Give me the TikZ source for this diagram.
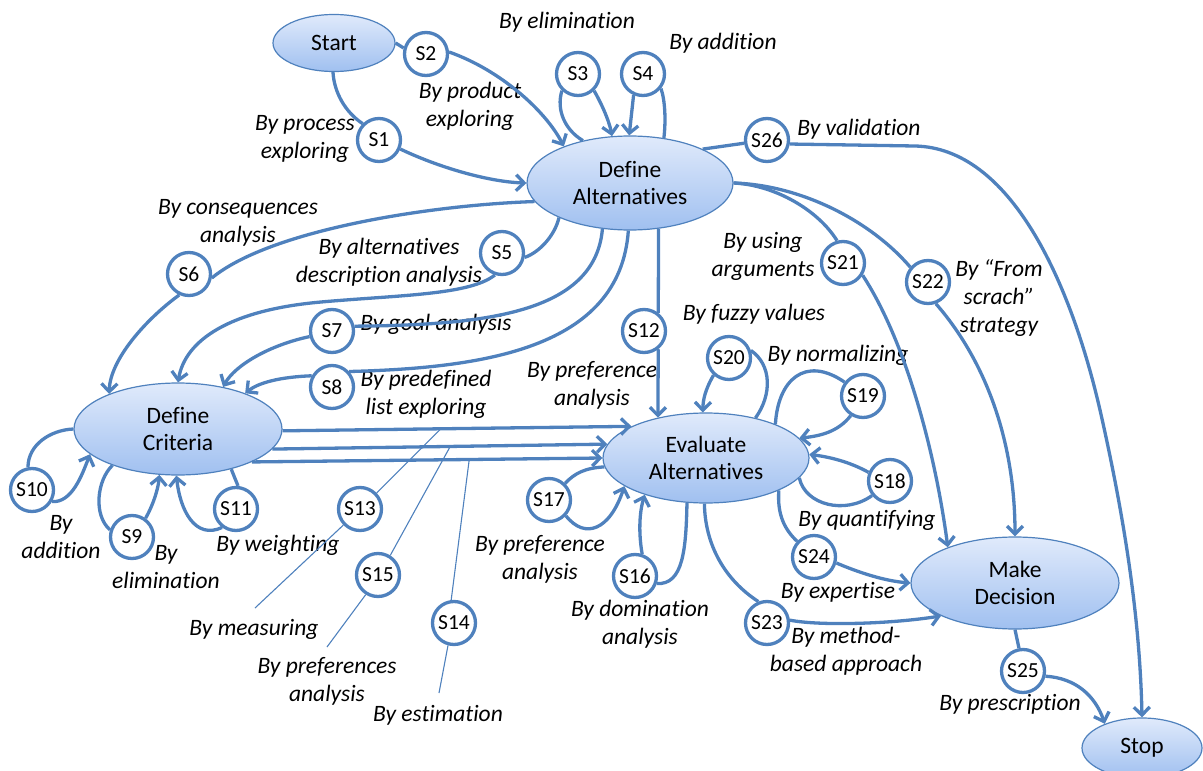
\documentclass[tikz,border=0pt]{standalone}
\usepackage{fontspec}
\setmainfont{Carlito}[Ligatures={TeX,NoCommon}]
\usetikzlibrary{shapes.geometric,arrows.meta}
\definecolor{eb}{RGB}{79,129,189}
\definecolor{ftop}{RGB}{224,234,251}
\definecolor{fbot}{RGB}{160,192,240}
\tikzset{
  st/.style={ellipse, draw=eb, line width=1.2pt, top color=ftop, bottom color=fbot,
    align=center, inner sep=0pt, font=\fontsize{23.5}{27.5}\selectfont},
  sn/.style={circle, draw=eb, line width=3.3pt, fill=white, minimum size=43pt,
    inner sep=0pt, font=\fontsize{21.5}{24}\selectfont},
  ed/.style={draw=eb, line width=3.3pt},
  ar/.style={ed, -{Straight Barb[length=8pt,width=16pt]}},
  thinl/.style={draw=eb, line width=1.1pt},
  lb/.style={font=\itshape\fontsize{23.5}{28}\selectfont, align=center, inner sep=0pt}
}
\begin{document}
\begin{tikzpicture}[x=1pt,y=-1pt]
\useasboundingbox (0,0) rectangle (1203,771);
\clip (0,0) rectangle (1203,771);
% main ellipses
\node[st, minimum width=122pt, minimum height=57pt] (Start) at (334,43) {Start};
\node[st, minimum width=206pt, minimum height=94pt] (DA) at (630,183) {Define\\Alternatives};
\node[st, minimum width=208pt, minimum height=92pt] (DC) at (178,429) {Define\\Criteria};
\node[st, minimum width=206pt, minimum height=90pt] (EA) at (706,458) {Evaluate\\Alternatives};
\node[st, minimum width=208pt, minimum height=92pt] (MD) at (1015,583) {Make\\Decision};
\node[st, minimum width=120pt, minimum height=60pt] (Stop) at (1142,748) {Stop};
% strategy circles
\node[sn] (S1) at (379,140) {S1};
\node[sn] (S2) at (426,54) {S2};
\node[sn] (S3) at (578,74) {S3};
\node[sn] (S4) at (643,74) {S4};
\node[sn] (S5) at (502,253) {S5};
\node[sn] (S6) at (189,274) {S6};
\node[sn] (S7) at (332,331) {S7};
\node[sn] (S8) at (332,387) {S8};
\node[sn] (S9) at (132,537) {S9};
\node[sn] (S10) at (32,490) {S10};
\node[sn] (S11) at (236,509) {S11};
\node[sn] (S12) at (644,331) {S12};
\node[sn] (S13) at (360,509) {S13};
\node[sn] (S14) at (454,623) {S14};
\node[sn] (S15) at (378,575) {S15};
\node[sn] (S16) at (635,576) {S16};
\node[sn] (S17) at (549,500) {S17};
\node[sn] (S18) at (890,481) {S18};
\node[sn] (S19) at (863,396) {S19};
\node[sn] (S20) at (729,358) {S20};
\node[sn] (S21) at (843,263) {S21};
\node[sn] (S22) at (928,282) {S22};
\node[sn] (S23) at (767,623) {S23};
\node[sn] (S24) at (814,557) {S24};
\node[sn] (S25) at (1023,671) {S25};
\node[sn] (S26) at (767,140) {S26};
% labels
\node[lb] (l3) at (567,22) {By elimination};
\node[lb] (l4) at (723,43) {By addition};
\node[lb] (l2) at (470,106) {By product\\exploring};
\node[lb] (l1) at (305,139) {By process\\exploring};
\node[lb] (l6) at (238,223) {By consequences\\analysis};
\node[lb] (l5) at (389,262) {By alternatives\\description analysis};
\node[lb] (l7) at (436,324) {By goal analysis};
\node[lb] (l8) at (426,394) {By predefined\\list exploring};
\node[lb] (l12) at (592,385) {By preference\\analysis};
\node[lb] (l20) at (754,314) {By fuzzy values};
\node[lb] (l19) at (838,355) {By normalizing};
\node[lb] (l21) at (763,256) {By using\\arguments};
\node[lb] (l22) at (999,298) {By “From\\scrach”\\strategy};
\node[lb] (l26) at (859,129) {By validation};
\node[lb] (l18) at (867,520) {By quantifying};
\node[lb] (l24) at (838,592) {By expertise};
\node[lb] (l23) at (846,651) {By method-\\based approach};
\node[lb] (l25) at (1010,704) {By prescription};
\node[lb] (l17) at (540,559) {By preference\\analysis};
\node[lb] (l16) at (640,624) {By domination\\analysis};
\node[lb] (l13) at (254,629) {By measuring};
\node[lb] (l15) at (327,681) {By preferences\\analysis};
\node[lb] (l14) at (438,715) {By estimation};
\node[lb] (l11) at (278,545) {By weighting};
\node[lb] (l10) at (61,537) {By\\addition};
\node[lb] (l9) at (166,567) {By\\elimination};
% free ends of the callout lines
\coordinate (t13) at (255,608);
\coordinate (t15) at (327,647);
\coordinate (t14) at (439,693);
% connectors
\draw[ed] (Start.268) .. controls (334,92) and (345,112) .. (S1.135);
\draw[ar] (S1.337) .. controls (440,168) and (490,182) .. (DA.180);
\draw[ed] (Start.east) -- (S2.165);
\draw[ar] (S2.5) .. controls (500,70) and (545,110) .. (DA.151);
\draw[ed] (DA.138) .. controls (565,130) and (556,110) .. (S3.226);
\draw[ar] (S3.314) .. controls (605,110) and (610,125) .. (DA.111);
\draw[ed] (DA.53) .. controls (666,120) and (665,100) .. (S4.321);
\draw[ar] (S4.246) -- (DA.91);
\draw[ed] (DA.25) -- (S26.188);
\draw[ar] (S26.350) -- (915,146) .. controls (1010,148) and (1070,280) .. (1100,410)
   .. controls (1125,520) and (1140,620) .. (Stop.90);
\draw[ed] (DA.0) .. controls (775,185) and (818,210) .. (S21.105);
\draw[ar] (S21.328) .. controls (905,340) and (935,450) .. (MD.152);
\draw[ed] (DA.0) .. controls (800,185) and (870,220) .. (S22.140);
\draw[ar] (S22.290) .. controls (985,360) and (1015,440) .. (MD.90);
\draw[ed] (MD.270) -- (S25.100);
\draw[ar] (S25.347) .. controls (1075,678) and (1095,695) .. (Stop.147);
\draw[ed] (EA.336) .. controls (777,515) and (785,530) .. (S24.137);
\draw[ar] (S24.345) .. controls (860,573) and (885,581) .. (MD.180);
\draw[ed] (EA.268) .. controls (705,545) and (725,580) .. (S23.112);
\draw[ar] (S23.7) .. controls (820,626) and (890,624) .. (MD.204);
\draw[ed] (EA.247) .. controls (686,550) and (683,585) .. (S16.341);
\draw[ar] (S16.72) .. controls (638,530) and (640,510) .. (EA.211);
\draw[ed] (EA.185) .. controls (585,468) and (575,473) .. (S17.46);
\draw[ar] (S17.317) .. controls (585,540) and (610,530) .. (EA.199);
\draw[ed] (EA.39) .. controls (772,395) and (772,365) .. (S20.19);
\draw[ar] (S20.228) .. controls (705,390) and (703,400) .. (EA.94);
\draw[ed] (EA.26) .. controls (778,380) and (805,355) .. (S19.143);
\draw[ar] (S19.238) .. controls (838,432) and (820,436) .. (EA.12);
\draw[ed] (EA.348) .. controls (805,505) and (845,515) .. (S18.219);
\draw[ar] (S18.158) .. controls (850,462) and (830,457) .. (EA.2);
\draw[ed] (DA.302) -- (S12.52);
\draw[ar] (S12.308) -- (EA.140);
\draw[ar] (DC.359) -- coordinate[pos=0.454] (m13) (EA.157);
\draw[ar] (DC.348) -- coordinate[pos=0.531] (m15) (EA.172);
\draw[ar] (DC.336) -- coordinate[pos=0.62] (m14) (EA.180);
\draw[thinl] (m13) -- (S13.44);
\draw[thinl] (S13.224) -- (t13);
\draw[thinl] (m15) -- (S15.58);
\draw[thinl] (S15.238) -- (t15);
\draw[thinl] (m14) -- (S14.97);
\draw[thinl] (S14.255) -- (t14);
\draw[ed] (DC.180) .. controls (50,430) and (28,445) .. (S10.100);
\draw[ar] (S10.330) .. controls (72,503) and (82,475) .. (DC.196);
\draw[ed] (DC.209) .. controls (97,480) and (93,515) .. (S9.162);
\draw[ar] (S9.54) .. controls (153,505) and (158,490) .. (DC.248);
\draw[ed] (DC.323) -- (S11.85);
\draw[ar] (S11.233) .. controls (195,540) and (180,510) .. (DC.268);
\draw[ed] (DA.191) .. controls (430,205) and (270,230) .. (S6.350);
\draw[ar] (S6.245) .. controls (145,320) and (110,360) .. (DC.153);
\draw[ed] (DA.206) .. controls (555,235) and (540,252) .. (S5.349);
\draw[ar] (S5.252) .. controls (470,295) and (400,295) .. (321,302)
   .. controls (230,310) and (185,340) .. (DC.90);
\draw[ed] (DA.239) .. controls (595,315) and (480,325) .. (S7.12);
\draw[ar] (S7.194) .. controls (270,345) and (235,365) .. (DC.43);
\draw[ed] (DA.268) .. controls (620,350) and (480,368) .. (S8.42);
\draw[ar] (S8.151) .. controls (279,377) and (258,383) .. (DC.28);
\end{tikzpicture}
\end{document}
